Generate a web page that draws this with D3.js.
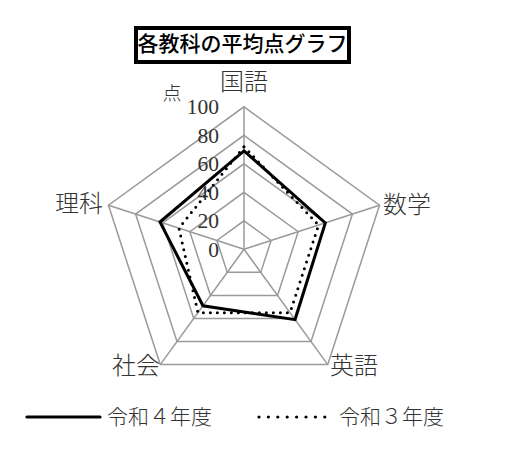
<!DOCTYPE html>
<html>
<head>
<meta charset="utf-8">
<script src="https://cdn.jsdelivr.net/npm/d3@7"></script>
<style>
  body { margin: 0; background: #fff; }
  svg { display: block; }
</style>
</head>
<body>
<svg id="chart" width="511" height="452"></svg>
<script>
// subjects, clockwise from the top
const subjects = ["国語", "数学", "英語", "社会", "理科"];
const scoresR4 = [69, 60, 61, 49, 62];   // 令和４年度
const scoresR3 = [72, 55, 55, 55, 48];   // 令和３年度
const ticks = [0, 20, 40, 60, 80, 100];
const seriesNames = ["令和４年度", "令和３年度"];
const title = "各教科の平均点グラフ";
const unit = "点";

const width = 511, height = 452;
const cx = 244, cy = 249.3, radius = 142.5;

const svg = d3.select("#chart");

const r = d3.scaleLinear().domain([0, 100]).range([0, radius]);
const angle = d3.scaleBand().domain(subjects).range([0, 2 * Math.PI]).align(0).paddingInner(0).paddingOuter(0);

// angle 0 = straight up, clockwise
const point = (subj, v) => {
    const a = angle(subj);
    return [cx + r(v) * Math.sin(a), cy - r(v) * Math.cos(a)];
};

const line = d3.line().curve(d3.curveLinearClosed);

// grid rings
const grid = svg.append("g")
    .attr("fill", "none")
    .attr("stroke", "#9a9a9a")
    .attr("stroke-width", 1.5);

grid.selectAll("path")
    .data(ticks.filter(t => t > 0))
    .enter().append("path")
        .attr("d", t => line(subjects.map(s => point(s, t))));

// spokes
grid.selectAll("line")
    .data(subjects)
    .enter().append("line")
        .attr("x1", cx)
        .attr("y1", cy)
        .attr("x2", s => point(s, 100)[0])
        .attr("y2", s => point(s, 100)[1]);

// series
svg.append("path")
    .attr("d", line(subjects.map((s, i) => point(s, scoresR3[i]))))
    .attr("fill", "none")
    .attr("stroke", "#000")
    .attr("stroke-width", 3)
    .attr("stroke-linecap", "round")
    .attr("stroke-dasharray", "0 7");

svg.append("path")
    .attr("d", line(subjects.map((s, i) => point(s, scoresR4[i]))))
    .attr("fill", "none")
    .attr("stroke", "#000")
    .attr("stroke-width", 3)
    .attr("stroke-linejoin", "miter");

// tick labels
svg.append("g")
    .selectAll("text")
    .data(ticks)
    .enter().append("text")
        .attr("x", 219)
        .attr("y", t => cy - r(t))
        .attr("dy", "0.35em")
        .attr("text-anchor", "end")
        .attr("font-family", "'Liberation Serif', serif")
        .attr("font-size", 21.5)
        .attr("fill", "#333")
        .text(t => t);

svg.append("text")
    .attr("x", 172)
    .attr("y", 93)
    .attr("dy", "0.35em")
    .attr("text-anchor", "middle")
    .attr("font-family", "'Noto Sans CJK JP', sans-serif")
    .attr("font-size", 19)
    .attr("font-weight", 300)
    .attr("fill", "#333")
    .text(unit);

// subject labels
const labelPos = {
    "国語": { x: 244, y: 82, anchor: "middle" },
    "数学": { x: 383, y: 205, anchor: "start" },
    "英語": { x: 330, y: 366, anchor: "start" },
    "社会": { x: 160, y: 366, anchor: "end" },
    "理科": { x: 103, y: 204, anchor: "end" }
};

svg.append("g")
    .selectAll("text")
    .data(subjects)
    .enter().append("text")
        .attr("x", s => labelPos[s].x)
        .attr("y", s => labelPos[s].y)
        .attr("dy", "0.35em")
        .attr("text-anchor", s => labelPos[s].anchor)
        .attr("font-family", "'Noto Sans CJK JP', sans-serif")
        .attr("font-size", 24)
        .attr("font-weight", 300)
        .attr("fill", "#333")
        .text(s => s);

// title box
svg.append("rect")
    .attr("x", 136)
    .attr("y", 28)
    .attr("width", 213)
    .attr("height", 34)
    .attr("fill", "#fff")
    .attr("stroke", "#000")
    .attr("stroke-width", 4);

svg.append("text")
    .attr("x", 242.5)
    .attr("y", 44)
    .attr("dy", "0.35em")
    .attr("text-anchor", "middle")
    .attr("font-family", "'Noto Sans CJK JP', sans-serif")
    .attr("font-size", 21)
    .attr("font-weight", 500)
    .attr("fill", "#000")
    .text(title);

// legend
const legend = svg.append("g");
const legendItems = [
    { name: seriesNames[0], x1: 27, x2: 100, tx: 107, dash: null },
    { name: seriesNames[1], x1: 259, x2: 332, tx: 339, dash: "0 9.4" }
];

legendItems.forEach(d => {
    legend.append("line")
        .attr("x1", d.x1)
        .attr("x2", d.x2)
        .attr("y1", 417)
        .attr("y2", 417)
        .attr("stroke", "#000")
        .attr("stroke-width", 3.2)
        .attr("stroke-linecap", "round")
        .attr("stroke-dasharray", d.dash);
    legend.append("text")
        .attr("x", d.tx)
        .attr("y", 417)
        .attr("dy", "0.35em")
        .attr("font-family", "'Noto Sans CJK JP', sans-serif")
        .attr("font-size", 21)
        .attr("font-weight", 300)
        .attr("fill", "#333")
        .text(d.name);
});
</script>
</body>
</html>
